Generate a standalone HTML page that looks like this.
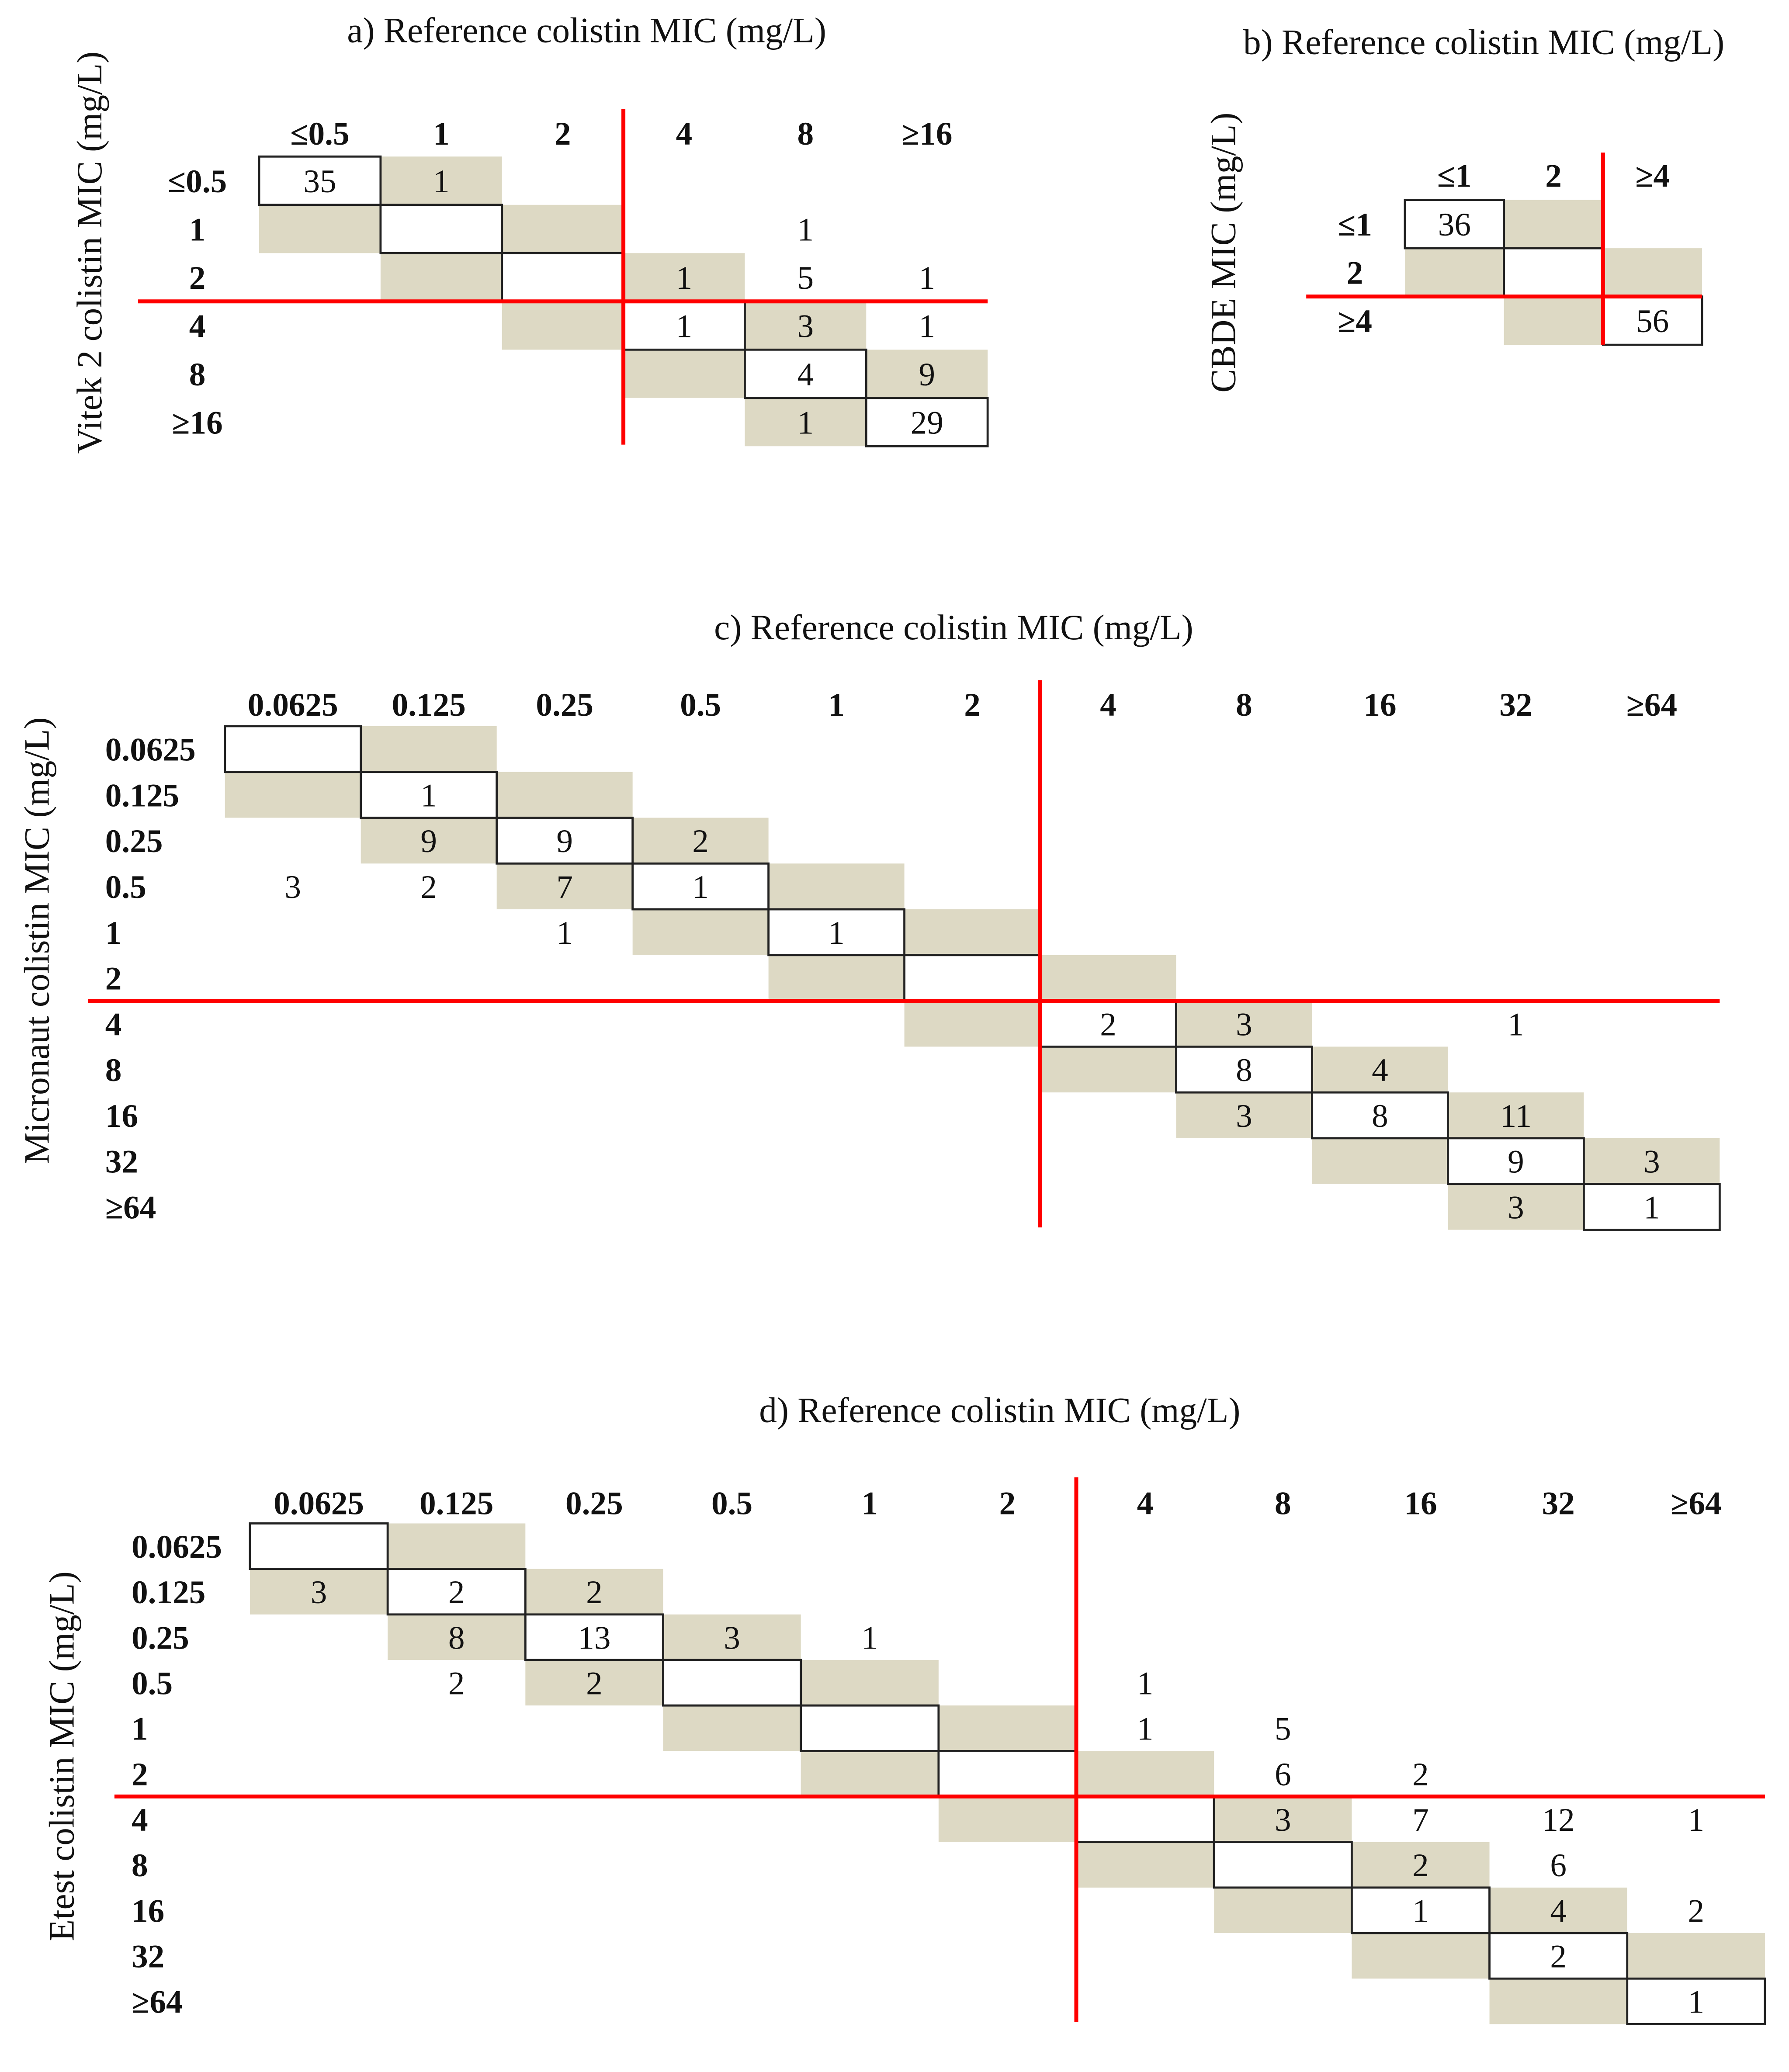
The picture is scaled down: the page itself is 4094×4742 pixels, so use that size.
<!DOCTYPE html>
<html><head><meta charset="utf-8"><style>
html,body{margin:0;padding:0;background:#fff;}
svg{display:block;}
text{font-family:"Liberation Serif",serif;fill:#111;}
</style></head><body>
<svg id="chart" width="4094" height="4742" viewBox="0 0 1360 1575" preserveAspectRatio="none" xmlns="http://www.w3.org/2000/svg"></svg>
<script>
// Panel a
const aCols = ["≤0.5","1","2","4","8","≥16"];
const aRows = ["≤0.5","1","2","4","8","≥16"];
const aCounts = [[0,0,35],[0,1,1],[1,4,1],[2,3,1],[2,4,5],[2,5,1],[3,3,1],[3,4,3],[3,5,1],[4,4,4],[4,5,9],[5,4,1],[5,5,29]];
// Panel b
const bCols = ["≤1","2","≥4"];
const bRows = ["≤1","2","≥4"];
const bCounts = [[0,0,36],[2,2,56]];
// Panel c
const cCols = ["0.0625","0.125","0.25","0.5","1","2","4","8","16","32","≥64"];
const cRows = ["0.0625","0.125","0.25","0.5","1","2","4","8","16","32","≥64"];
const cCounts = [[1,1,1],[2,1,9],[2,2,9],[2,3,2],[3,0,3],[3,1,2],[3,2,7],[3,3,1],[4,2,1],[4,4,1],[6,6,2],[6,7,3],[6,9,1],[7,7,8],[7,8,4],[8,7,3],[8,8,8],[8,9,11],[9,9,9],[9,10,3],[10,9,3],[10,10,1]];
// Panel d
const dCols = ["0.0625","0.125","0.25","0.5","1","2","4","8","16","32","≥64"];
const dRows = ["0.0625","0.125","0.25","0.5","1","2","4","8","16","32","≥64"];
const dCounts = [[1,0,3],[1,1,2],[1,2,2],[2,1,8],[2,2,13],[2,3,3],[2,4,1],[3,1,2],[3,2,2],[3,6,1],[4,6,1],[4,7,5],[5,7,6],[5,8,2],[6,7,3],[6,8,7],[6,9,12],[6,10,1],[7,8,2],[7,9,6],[8,8,1],[8,9,4],[8,10,2],[9,9,2],[10,10,1]];

const NS="http://www.w3.org/2000/svg";
const svg=document.getElementById('chart');
function mk(tag,attrs,parent,txt){const e=document.createElementNS(NS,tag);for(const k in attrs)e.setAttribute(k,attrs[k]);if(txt!==undefined)e.textContent=txt;(parent||svg).appendChild(e);return e;}

function panel(id,cfg,cols,rows,counts){
  const g=mk('g',{});
  
  
  const x=i=>cfg.x0+i*cfg.cw, y=j=>cfg.y0+j*cfg.ch;
  for(let r=0;r<rows.length;r++)for(let c=0;c<cols.length;c++){
    if(Math.abs(r-c)===1){
      const e=mk('rect',{x:x(c),y:y(r),width:cfg.cw,height:cfg.ch,fill:'#ddd9c4'},g);
      
      
    }
  }
  for(let r=0;r<rows.length;r++){
    const e=mk('rect',{x:x(r),y:y(r),width:cfg.cw,height:cfg.ch,fill:'#fff',stroke:'#222','stroke-width':1.6},g);
    
    
  }
  cols.forEach((t,i)=>{const e=mk('text',{x:x(i)+cfg.cw/2,y:cfg.hy,'text-anchor':'middle','font-size':cfg.fs,'font-weight':'bold'},g,t);
    
    });
  rows.forEach((t,j)=>{const e=mk('text',{x:cfg.rx,y:y(j)+cfg.ch/2+cfg.fs*0.35,'text-anchor':cfg.ranchor,'font-size':cfg.fs,'font-weight':'bold'},g,t);
    
    });
  counts.forEach(([r,c,v])=>{const e=mk('text',{x:x(c)+cfg.cw/2,y:y(r)+cfg.ch/2+cfg.fs*0.35,'text-anchor':'middle','font-size':cfg.fs},g,String(v));
    
    });
  const bx=x(cfg.bp), by=y(cfg.bp);
  const v=mk('line',{x1:bx,x2:bx,y1:cfg.vTop,y2:cfg.vBot,stroke:'#f00','stroke-width':3},g);
  
  
  const h=mk('line',{x1:cfg.hL,x2:x(cols.length),y1:by,y2:by,stroke:'#f00','stroke-width':3},g);
  
  
  const t=mk('text',{x:cfg.tx,y:cfg.ty,'text-anchor':'middle','font-size':27},g,cfg.title);
  
  
  const yt=mk('text',{x:0,y:0,'text-anchor':'middle','font-size':27,transform:`translate(${cfg.yx},${cfg.yy}) rotate(-90)`},g,cfg.ytitle);
  
  
}
panel('a',{x0:197,cw:92.3,y0:119,ch:36.7,hy:110,rx:150,ranchor:'middle',fs:25,bp:3,vTop:83,vBot:338,hL:105,tx:446,ty:32,title:'a) Reference colistin MIC (mg/L)',yx:77,yy:192,ytitle:'Vitek 2 colistin MIC (mg/L)'},aCols,aRows,aCounts);
panel('b',{x0:1068,cw:75.3,y0:152,ch:36.7,hy:142,rx:1030,ranchor:'middle',fs:25,bp:2,vTop:116,vBot:262,hL:993,tx:1128,ty:41,title:'b) Reference colistin MIC (mg/L)',yx:939,yy:192,ytitle:'CBDE MIC (mg/L)'},bCols,bRows,bCounts);
panel('c',{x0:171,cw:103.3,y0:552,ch:34.8,hy:544,rx:80,ranchor:'start',fs:25,bp:6,vTop:517,vBot:933,hL:67,tx:725,ty:486,title:'c) Reference colistin MIC (mg/L)',yx:37,yy:715,ytitle:'Micronaut colistin MIC (mg/L)'},cCols,cRows,cCounts);
panel('d',{x0:190,cw:104.7,y0:1158,ch:34.6,hy:1151,rx:100,ranchor:'start',fs:25,bp:6,vTop:1123,vBot:1537,hL:87,tx:760,ty:1081,title:'d) Reference colistin MIC (mg/L)',yx:56,yy:1335,ytitle:'Etest colistin MIC (mg/L)'},dCols,dRows,dCounts);
</script>
</body></html>
